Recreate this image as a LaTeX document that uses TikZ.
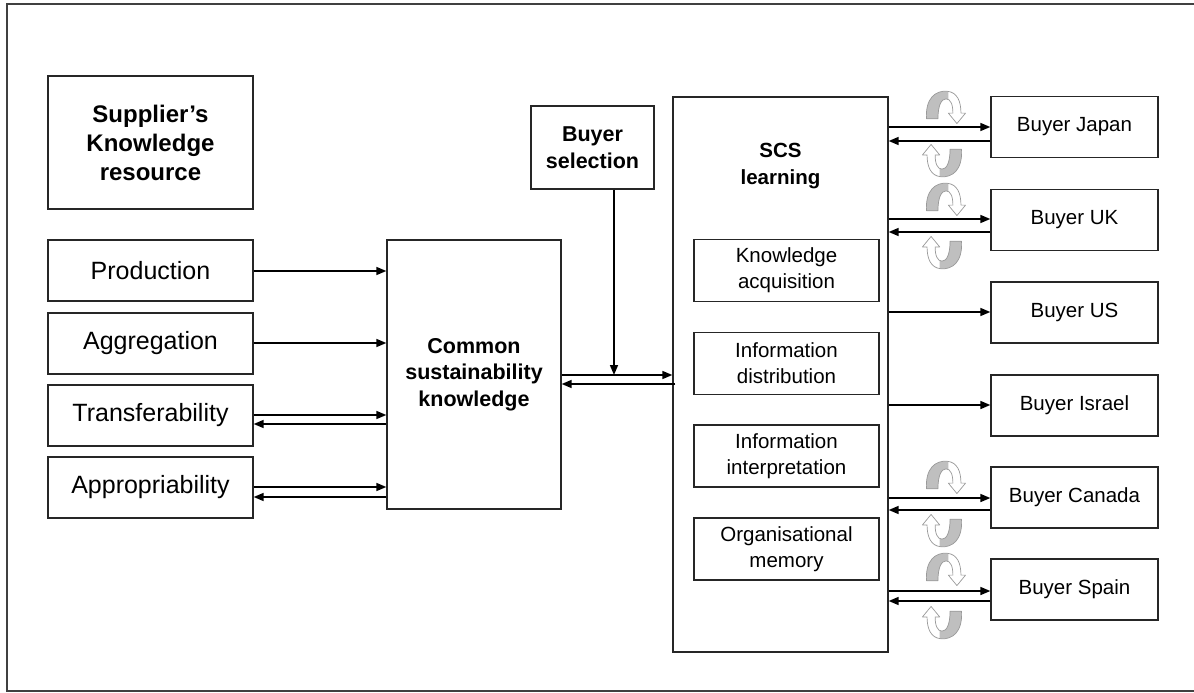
\documentclass[tikz,border=0pt]{standalone}
\usepackage{fontspec}
\setmainfont{Liberation Sans}
\usetikzlibrary{arrows.meta}

% outline of the twisted circular arrow (upper half, pointing clockwise)
\def\ribbonpath{(-17,-16) .. controls (-18,-38) and (-9,-46) .. (1,-45)
  .. controls (10,-44) and (13,-34) .. (13,-22)
  -- (17,-22) -- (9.5,-11) -- (2,-22) -- (6,-22)
  .. controls (6,-31) and (4,-37) .. (0,-37)
  .. controls (-4,-37) and (-7,-30) .. (-7,-16) -- cycle}

\tikzset{
  twist/.pic={
    \fill[white] \ribbonpath;
    \begin{scope}
      \clip (-25,-50) rectangle (2,-10);
      \fill[gray!50] \ribbonpath;
    \end{scope}
    \draw[gray!80, line width=0.7pt, line join=round] \ribbonpath;
  }
}

\begin{document}
\begin{tikzpicture}[x=1pt,y=-1pt,
  box/.style={draw=black!85, line width=1.3pt, rectangle, inner sep=0pt,
    align=center, text=black},
  bigfont/.style={font=\fontsize{25}{30}\selectfont},
  bigbold/.style={font=\fontsize{24}{29}\selectfont\bfseries},
  midbold/.style={font=\fontsize{21.5}{26.5}\selectfont\bfseries},
  smallbold/.style={font=\fontsize{20.5}{26.5}\selectfont\bfseries},
  small/.style={font=\fontsize{20.5}{26}\selectfont},
  src/.style={box, bigfont, minimum width=205, minimum height=61},
  inner/.style={box, small, minimum width=185, minimum height=62},
  buyer/.style={box, small, minimum width=167, minimum height=61},
  arr/.style={line width=1.6pt, black, -{Triangle[length=10pt,width=8pt]}}]

\useasboundingbox (0,0) rectangle (1194,693);

% outer frame
\draw[line width=1.5pt, black!75] (1200,4) -- (7,4) -- (7,691) -- (1200,691);

% supplier side
\node[box, bigbold, minimum width=205, minimum height=133] (sup) at (150.5,142.5)
  {Supplier’s\\Knowledge\\resource};
\node[src] (prod)  at (150.5,270.5) {Production};
\node[src] (agg)   at (150.5,343.5) {Aggregation};
\node[src] (trans) at (150.5,415.5) {Transferability};
\node[src] (appr)  at (150.5,487.5) {Appropriability};

\node[box, midbold, minimum width=174, minimum height=269] (csk) at (474,374.5)
  {Common\\sustainability\\knowledge};

\node[box, midbold, minimum width=123, minimum height=83] (bsel) at (592.5,147.5)
  {Buyer\\selection};

% SCS learning block
\node[box, minimum width=215, minimum height=555] (scs) at (780.5,374.5) {};
\node[smallbold, align=center] (scst) at (780.5,166) {SCS\\learning};
\node[inner] (ka) at (786.5,270.5) {Knowledge\\acquisition};
\node[inner] (id) at (786.5,363.5) {Information\\distribution};
\node[inner] (ii) at (786.5,456)   {Information\\interpretation};
\node[inner] (om) at (786.5,549)   {Organisational\\memory};

% buyers
\node[buyer] (jp) at (1074.5,127)   {Buyer Japan};
\node[buyer] (uk) at (1074.5,220)   {Buyer UK};
\node[buyer] (us) at (1074.5,312.5) {Buyer US};
\node[buyer] (il) at (1074.5,405.5) {Buyer Israel};
\node[buyer] (ca) at (1074.5,497.5) {Buyer Canada};
\node[buyer] (es) at (1074.5,589.5) {Buyer Spain};

% supplier resources -> common knowledge
\draw[arr] ([yshift=-0.5pt]prod.east) -- ([yshift=-0.5pt]prod.east -| csk.west);
\draw[arr] ([yshift=0.5pt]agg.east) -- ([yshift=0.5pt]agg.east -| csk.west);
\draw[arr] ([yshift=0.5pt]trans.east) -- ([yshift=0.5pt]trans.east -| csk.west);
\draw[arr] ([yshift=-8.5pt]trans.east -| csk.west) -- ([yshift=-8.5pt]trans.east);
\draw[arr] ([yshift=0.5pt]appr.east) -- ([yshift=0.5pt]appr.east -| csk.west);
\draw[arr] ([yshift=-9.5pt]appr.east -| csk.west) -- ([yshift=-9.5pt]appr.east);

% common knowledge <-> SCS learning
\draw[arr] ([yshift=-0.5pt]csk.east) -- ([yshift=-0.5pt]csk.east -| scs.west);
\draw[arr] ([xshift=3pt,yshift=-9.5pt]csk.east -| scs.west) -- ([yshift=-9.5pt]csk.east);
\draw[arr] ([xshift=21.5pt]bsel.south) -- ([xshift=21.5pt,yshift=-0.5pt]bsel.south |- csk.east);

% SCS learning <-> buyers
\draw[arr] (jp.west -| scs.east) -- (jp.west);
\draw[arr] ([yshift=-14pt]jp.west) -- ([yshift=-14pt]jp.west -| scs.east);
\draw[arr] ([yshift=1pt]uk.west -| scs.east) -- ([yshift=1pt]uk.west);
\draw[arr] ([yshift=-12pt]uk.west) -- ([yshift=-12pt]uk.west -| scs.east);
\draw[arr] ([yshift=0.5pt]us.west -| scs.east) -- ([yshift=0.5pt]us.west);
\draw[arr] ([yshift=0.5pt]il.west -| scs.east) -- ([yshift=0.5pt]il.west);
\draw[arr] ([yshift=-0.5pt]ca.west -| scs.east) -- ([yshift=-0.5pt]ca.west);
\draw[arr] ([yshift=-12.5pt]ca.west) -- ([yshift=-12.5pt]ca.west -| scs.east);
\draw[arr] ([yshift=-1.5pt]es.west -| scs.east) -- ([yshift=-1.5pt]es.west);
\draw[arr] ([yshift=-11.5pt]es.west) -- ([yshift=-11.5pt]es.west -| scs.east);

% cycling arrows on the two-way links
\foreach \c in {134,226,504,596} {
  \pic[xscale=1.15, yscale=0.95] at (946,\c) {twist};
  \pic[xscale=1.15, yscale=0.95, rotate=180] at (942,\c) {twist};
}

\end{tikzpicture}
\end{document}
